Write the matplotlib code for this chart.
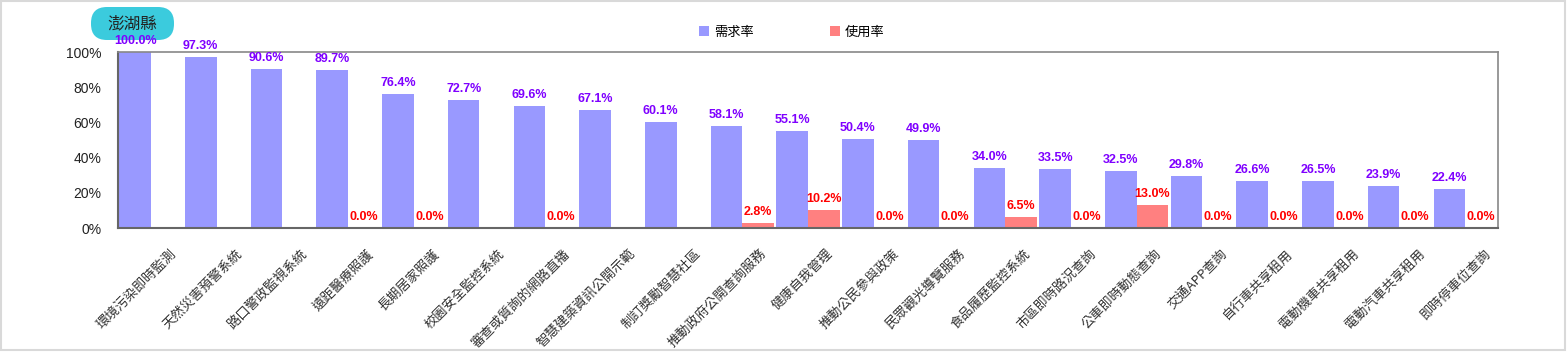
import numpy as np
import matplotlib
matplotlib.use("Agg")
import matplotlib.pyplot as plt
from matplotlib.patches import FancyBboxPatch, Rectangle
from matplotlib.ticker import FuncFormatter

plt.rcParams['font.family'] = ['Noto Sans CJK TC', 'DejaVu Sans']

title = "澎湖縣"
series_names = ["需求率", "使用率"]
categories = ["環境污染即時監測", "天然災害預警系統", "路口警政監視系統", "遠距醫療照護",
              "長期居家照護", "校園安全監控系統", "審查或質詢的網路直播", "智慧建築資訊公開示範",
              "制訂獎勵智慧社區", "推動政府公開查詢服務", "健康自我管理", "推動公民參與政策",
              "民眾觀光導覽服務", "食品履歷監控系統", "市區即時路況查詢", "公車即時動態查詢",
              "交通APP查詢", "自行車共享租用", "電動機車共享租用", "電動汽車共享租用", "即時停車位查詢"]
demand = [100.0, 97.3, 90.6, 89.7, 76.4, 72.7, 69.6, 67.1, 60.1, 58.1, 55.1, 50.4,
          49.9, 34.0, 33.5, 32.5, 29.8, 26.6, 26.5, 23.9, 22.4]
usage = [None, None, None, 0.0, 0.0, None, 0.0, None, None, 2.8, 10.2, 0.0,
         0.0, 6.5, 0.0, 13.0, 0.0, 0.0, 0.0, 0.0, 0.0]
yticks = [0, 20, 40, 60, 80, 100]

W, H = 1567, 352
fig = plt.figure(figsize=(W / 100, H / 100), dpi=100)

# pixel overlay for decorations
bg = fig.add_axes([0, 0, 1, 1], zorder=-1)
bg.set_xlim(0, W)
bg.set_ylim(H, 0)
bg.axis("off")
bg.add_patch(Rectangle((1, 1), W - 3, H - 3, fill=False, edgecolor="#D9D9D9", linewidth=1.5))

ax = fig.add_axes([118 / W, 1 - 228 / H, (1498 - 118) / W, (228 - 52) / H])
ax.patch.set_alpha(0)

x = np.arange(len(categories))
bw = 0.48
blue = "#9999FF"
red = "#FF8080"
ax.bar(x - bw / 2, demand, width=bw, color=blue, label=series_names[0], zorder=2)
u_vals = np.array([np.nan if v is None else v for v in usage])
ax.bar(x + bw / 2, np.nan_to_num(u_vals), width=bw, color=red, label=series_names[1], zorder=2)

for i, v in enumerate(demand):
    ax.annotate(f"{v:.1f}%", (x[i] - bw / 2, v), xytext=(0, 3.5), textcoords="offset points",
                ha="center", va="bottom", color="#7F00FF", fontsize=9, fontweight="bold",
                family=["Liberation Sans", "DejaVu Sans"], annotation_clip=False, zorder=5)
for i, v in enumerate(usage):
    if v is None:
        continue
    ax.annotate(f"{v:.1f}%", (x[i] + bw / 2, v), xytext=(0, 3.5), textcoords="offset points",
                ha="center", va="bottom", color="#FF0000", fontsize=9, fontweight="bold",
                family=["Liberation Sans", "DejaVu Sans"], annotation_clip=False, zorder=5)

ax.set_xlim(-0.5, len(categories) - 0.5)
ax.set_ylim(0, 100)
ax.set_yticks(yticks)
ax.yaxis.set_major_formatter(FuncFormatter(lambda v, p: f"{int(v)}%"))
ax.tick_params(axis="y", length=0, pad=12, labelsize=10, labelcolor="#222222")
for lbl in ax.get_yticklabels():
    lbl.set_family(["Liberation Sans", "DejaVu Sans"])
ax.set_xticks(x + 0.28)
ax.set_xticklabels(categories, rotation=45, ha="right", rotation_mode="anchor",
                   fontsize=9.5, color="#333333")
ax.tick_params(axis="x", length=0, pad=14)

for side in ["left", "bottom"]:
    ax.spines[side].set_color("#666666")
    ax.spines[side].set_linewidth(1.5)
for side in ["top", "right"]:
    ax.spines[side].set_color("#888888")
    ax.spines[side].set_linewidth(1.2)

leg = fig.legend(loc="center", bbox_to_anchor=(792 / W, 1 - 32 / H), ncol=2, frameon=False,
                 fontsize=9.5, handlelength=0.7, handleheight=0.7, handletextpad=0.4,
                 columnspacing=5.8)

# title badge
bg.add_patch(FancyBboxPatch((91, 7), 174 - 91, 40 - 7,
                            boxstyle="round,pad=0,rounding_size=16",
                            facecolor="#3BCBDD", edgecolor="none"))
bg.text(132, 24, title, ha="center", va="center", fontsize=12, color="#222222")

fig.savefig("out.png", dpi=100)
